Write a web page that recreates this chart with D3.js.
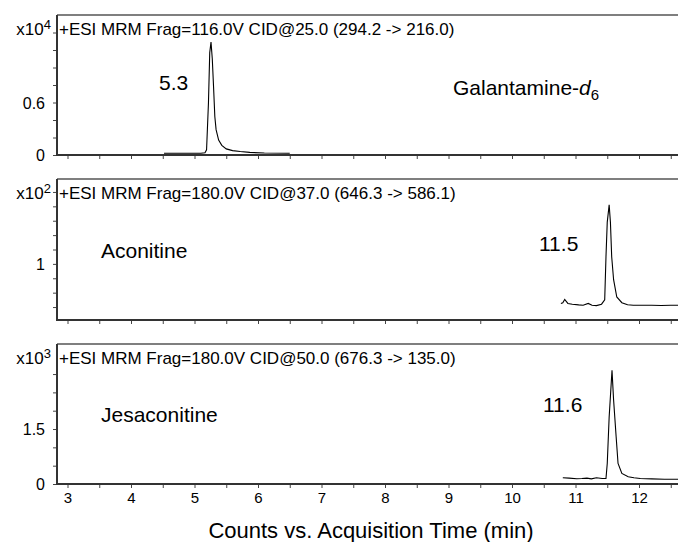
<!DOCTYPE html>
<html>
<head>
<meta charset="utf-8">
<script src="https://cdn.jsdelivr.net/npm/d3@7"></script>
<style>
  body { margin: 0; background: #fff; }
  text { font-family: "Liberation Sans", Arial, sans-serif; fill: #000; }
</style>
</head>
<body>
<script>
// retention time ticks (min)
var timeTicks = [3, 4, 5, 6, 7, 8, 9, 10, 11, 12];

// Galantamine-d6 trace, counts x10^4
var galTime  = [4.52, 4.9, 5.1, 5.165, 5.19, 5.22, 5.24, 5.26, 5.28, 5.30, 5.32, 5.34, 5.38, 5.43, 5.5, 5.6, 5.72, 5.87, 6.1, 6.5];
var galValue = [0.02, 0.02, 0.02, 0.025, 0.06, 0.6, 1.17, 1.29, 1.1, 0.78, 0.44, 0.29, 0.17, 0.11, 0.07, 0.05, 0.04, 0.03, 0.022, 0.02];

// Aconitine trace, counts x10^2
var acoTime  = [10.77, 10.8, 10.83, 10.88, 10.95, 11.05, 11.12, 11.2, 11.26, 11.33, 11.41, 11.46, 11.48, 11.5, 11.53, 11.55, 11.57, 11.6, 11.65, 11.73, 11.82, 11.91, 12.05, 12.2, 12.35, 12.5, 12.65];
var acoValue = [0.725, 0.73, 0.753, 0.725, 0.72, 0.715, 0.713, 0.725, 0.712, 0.71, 0.72, 0.75, 1.05, 1.29, 1.41, 1.29, 1.05, 0.89, 0.77, 0.73, 0.716, 0.713, 0.712, 0.713, 0.711, 0.713, 0.712];

// Jesaconitine trace, counts x10^3
var jesTime  = [10.8, 10.9, 11.02, 11.1, 11.18, 11.25, 11.33, 11.42, 11.48, 11.5, 11.53, 11.575, 11.6, 11.64, 11.67, 11.73, 11.83, 11.92, 12.02, 12.2, 12.4, 12.65];
var jesValue = [0.17, 0.16, 0.145, 0.15, 0.16, 0.14, 0.17, 0.15, 0.15, 0.56, 1.83, 3.1, 2.29, 1.29, 0.56, 0.29, 0.2, 0.17, 0.15, 0.14, 0.13, 0.13];

var headers = [
  "+ESI MRM Frag=116.0V CID@25.0 (294.2 -> 216.0)",
  "+ESI MRM Frag=180.0V CID@37.0 (646.3 -> 586.1)",
  "+ESI MRM Frag=180.0V CID@50.0 (676.3 -> 135.0)"
];
var exponents = ["4", "2", "3"];
var peakTimes = ["5.3", "11.5", "11.6"];

var W = 678, H = 542;
var left = 57, right = 678;

var svg = d3.select("body").append("svg")
    .attr("width", W)
    .attr("height", H);

var x = d3.scaleLinear().domain([3, 12]).range([67.5, 639]);

var panels = [
  { top: 15,  bottom: 155, dom: [0, 1.6],     ticks: d3.range(0, 1.41, 0.2),   labels: [0, 0.6],
    t: galTime, v: galValue },
  { top: 179, bottom: 320, dom: [0.61, 1.59], ticks: d3.range(0.7, 1.51, 0.1), labels: [1],
    t: acoTime, v: acoValue },
  { top: 344, bottom: 484, dom: [0, 3.82],    ticks: d3.range(0, 3.01, 0.5),   labels: [0, 1.5],
    t: jesTime, v: jesValue }
];

svg.append("defs").append("clipPath").attr("id", "clipAll")
  .append("rect").attr("x", left).attr("y", 0).attr("width", right - left).attr("height", H);

panels.forEach(function(p, i) {
  var y = d3.scaleLinear().domain(p.dom).range([p.bottom, p.top]);
  var g = svg.append("g");

  // top frame line
  g.append("line")
    .attr("x1", left).attr("x2", right)
    .attr("y1", p.top).attr("y2", p.top)
    .attr("stroke", "#555").attr("stroke-width", 1.5);

  // y ticks
  var ya = d3.axisLeft(y).tickValues(p.ticks).tickSize(4).tickSizeOuter(0)
    .tickFormat(function(d) {
      var hit = p.labels.some(function(l) { return Math.abs(l - d) < 1e-6; });
      return hit ? d3.format("~g")(+d.toFixed(2)) : "";
    });
  var gy = g.append("g").attr("transform", "translate(" + left + ",0)").call(ya);
  gy.select(".domain").remove();
  gy.selectAll(".tick line").attr("stroke", "#444").attr("stroke-width", 1);
  gy.selectAll(".tick text").attr("x", -12).attr("dy", "0.36em")
    .style("font-size", "16px").style("font-family", "Liberation Sans, Arial, sans-serif");

  // x ticks
  var xa = d3.axisBottom(x).tickValues(d3.range(3, 12.51, 0.5)).tickSize(4).tickSizeOuter(0)
    .tickFormat(function(d) { return (i === 2 && timeTicks.indexOf(d) >= 0) ? d : ""; });
  var gx = g.append("g").attr("transform", "translate(0," + p.bottom + ")").call(xa);
  gx.select(".domain").remove();
  gx.selectAll(".tick line").attr("stroke", "#444").attr("stroke-width", 1);
  gx.selectAll(".tick text").attr("y", 8).attr("dy", "0.71em")
    .style("font-size", "15px").style("font-family", "Liberation Sans, Arial, sans-serif");

  // axis lines
  g.append("line")
    .attr("x1", left).attr("x2", left)
    .attr("y1", p.top).attr("y2", p.bottom + 1)
    .attr("stroke", "#333").attr("stroke-width", 2);
  g.append("line")
    .attr("x1", left).attr("x2", right)
    .attr("y1", p.bottom).attr("y2", p.bottom)
    .attr("stroke", "#333").attr("stroke-width", 2);

  // trace
  var pts = p.t.map(function(t, k) { return [t, p.v[k]]; });
  g.append("path")
    .datum(pts)
    .attr("clip-path", "url(#clipAll)")
    .attr("fill", "none")
    .attr("stroke", "#000")
    .attr("stroke-width", 1.1)
    .attr("d", d3.line().x(function(d) { return x(d[0]); }).y(function(d) { return y(d[1]); }));

  // header
  g.append("text")
    .attr("x", 59).attr("y", p.top + 20)
    .style("font-size", "17px")
    .text(headers[i]);

  // multiplier
  var m = g.append("text")
    .attr("x", 51).attr("y", p.top + 20)
    .attr("text-anchor", "end")
    .style("font-size", "17px");
  m.append("tspan").text("x10");
  m.append("tspan").attr("dy", -6).style("font-size", "13px").text(exponents[i]);
});

// peak labels and compound names
svg.append("text").attr("x", 159).attr("y", 90).style("font-size", "21px").text(peakTimes[0]);
svg.append("text").attr("x", 539).attr("y", 251).style("font-size", "21px").text(peakTimes[1]);
svg.append("text").attr("x", 543).attr("y", 412).style("font-size", "21px").text(peakTimes[2]);

var gal = svg.append("text").attr("x", 453).attr("y", 95).style("font-size", "21px");
gal.append("tspan").text("Galantamine-");
gal.append("tspan").style("font-style", "italic").text("d");
gal.append("tspan").attr("dy", 5).style("font-size", "15px").text("6");

svg.append("text").attr("x", 101).attr("y", 258).style("font-size", "21px").text("Aconitine");
svg.append("text").attr("x", 101).attr("y", 422).style("font-size", "21px").text("Jesaconitine");

svg.append("text")
  .attr("x", 371).attr("y", 538)
  .attr("text-anchor", "middle")
  .style("font-size", "22px")
  .text("Counts vs. Acquisition Time (min)");
</script>
</body>
</html>
